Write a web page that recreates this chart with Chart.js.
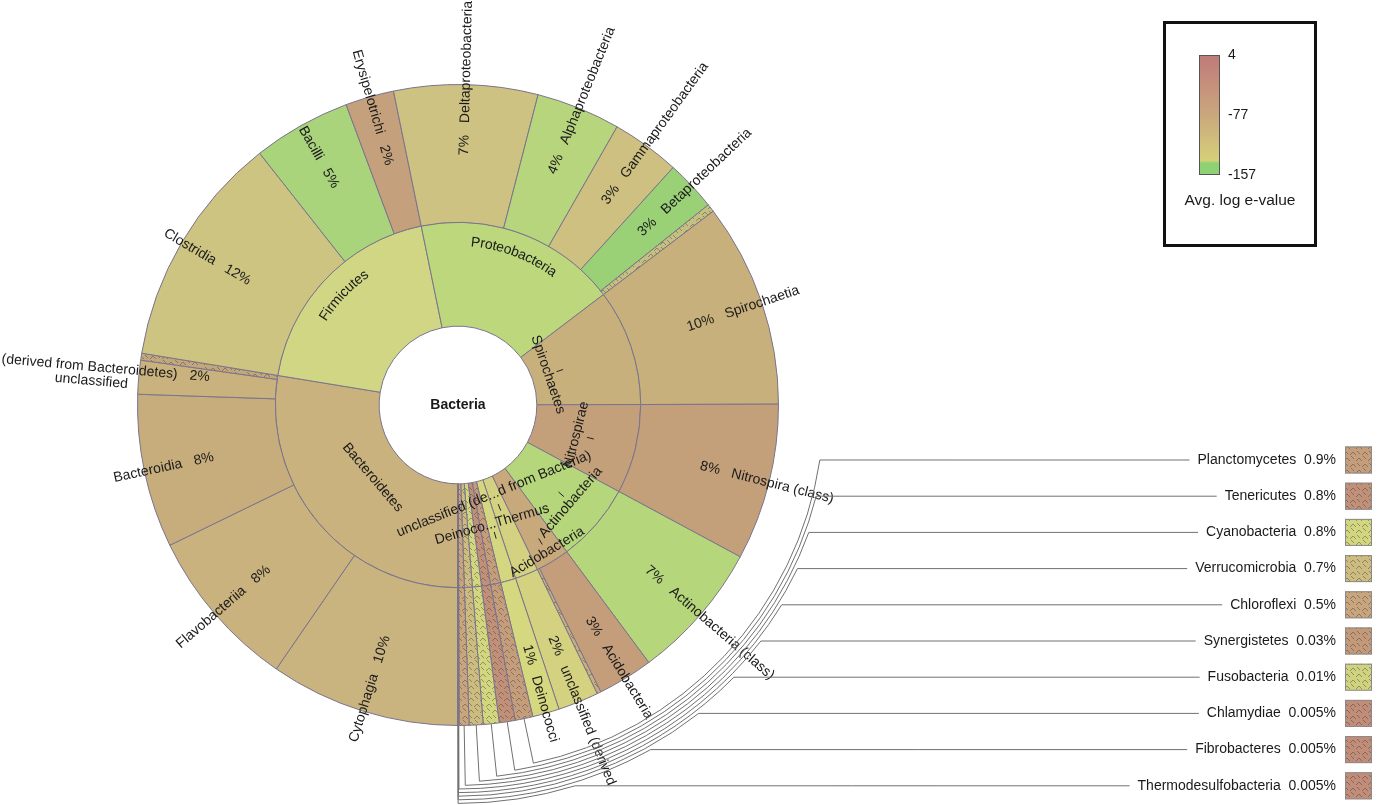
<!DOCTYPE html>
<html><head><meta charset="utf-8">
<script src="https://cdn.jsdelivr.net/npm/chart.js@4"></script>
<style>html,body{margin:0;padding:0;background:#fff;overflow:hidden;}</style>
</head><body>
<canvas id="c" width="1378" height="805"></canvas>
<script>
// ---- DATA (percent of reads) ----
const phyla = ['Bacteroidetes','Firmicutes','Proteobacteria','Spirochaetes','Nitrospirae','Actinobacteria','Acidobacteria','unclassified (derived from Bacteria)','Deinococcus-Thermus','Planctomycetes','Tenericutes','Cyanobacteria','Verrucomicrobia','Chloroflexi','Synergistetes','Fusobacteria','Chlamydiae','Fibrobacteres','Thermodesulfobacteria'];
const phylumPct = [27.6,19.2,17.9,10.3,7.9,7.0,3.0,2.05,1.35,0.9,0.8,0.8,0.7,0.5,0.03,0.01,0.005,0.005,0.005];
const phylumInnerLabel = ['Bacteroidetes','Firmicutes','Proteobacteria','Spirochaetes','Nitrospirae','Actinobacteria','Acidobacteria','unclassified (de...d from Bacteria)','Deinoco...Thermus','','','','','','','','','',''];

const classes = ['Cytophagia','Flavobacteriia','Bacteroidia','unclassified (derived from Bacteroidetes)','other Bacteroidetes',
  'Clostridia','Bacilli','Erysipelotrichi',
  'Deltaproteobacteria','Alphaproteobacteria','Gammaproteobacteria','Betaproteobacteria','other Proteobacteria',
  'Spirochaetia','Nitrospira (class)','Actinobacteria (class)','Acidobacteria','other Acidobacteria',
  'unclassified (derived from Bacteria)','Deinococci',
  'Planctomycetes','Tenericutes','Cyanobacteria','Verrucomicrobia','Chloroflexi','Synergistetes','Fusobacteria','Chlamydiae','Fibrobacteres','Thermodesulfobacteria'];
const classPct = [9.6,8.2,7.75,1.7,0.35, 11.8,4.95,2.45, 7.25,4.25,3.45,2.55,0.4, 10.3,7.9,7.0,2.8,0.2, 2.05,1.35,
  0.9,0.8,0.8,0.7,0.5,0.03,0.01,0.005,0.005,0.005];
// outer-ring label text ('' = no label); second line for wrapped labels
const classLabelText = ['Cytophagia','Flavobacteriia','Bacteroidia','(derived from Bacteroidetes)','',
  'Clostridia','Bacilli','Erysipelotrichi',
  'Deltaproteobacteria','Alphaproteobacteria','Gammaproteobacteria','Betaproteobacteria','',
  'Spirochaetia','Nitrospira (class)','Actinobacteria (class)','Acidobacteria','',
  'unclassified (derived','Deinococci','','','','','','','','','',''];
const classLabelLine2 = {3:'unclassified'};

// small phyla listed at right
const smallPhyla = phyla.slice(9);
const smallPct = phylumPct.slice(9);

// colour legend
const legendTicks = [4,-77,-157];
const legendTitle = 'Avg. log e-value';

// ---- STYLE ----
const FONT = '"Liberation Sans", Arial, sans-serif';
const TAU = Math.PI*2;
const phylumColors = ['#c9b27e','#d0d683','#bdd77d','#c8b07c','#c3a07a','#b6d67b','#c8a97b','#d4d180','#d5d680',
  '#c49d7b','#c09178','#d2d67f','#ccbc80','#c8a57c','#c39a79','#cfd27f','#c08d78','#c08d78','#c08d78'];
const classColors = ['#c9b37e','#c9b27d','#c7ad7b','#c9b27e','#c2a67c',
  '#cdc481','#a9d47b','#c4a07c',
  '#cdc281','#b7d57c','#cdc080','#9ad076','#c5c07f',
  '#c8b07c','#c3a07a','#b6d67b','#c49e7a','#c8b07c',
  '#d4d180','#d6d880',
  '#c49d7b','#c09178','#d2d67f','#ccbc80','#c8a57c','#c39a79','#cfd27f','#c08d78','#c08d78','#c08d78'];
const hatchedClass = new Set([4,12,17,20,21,22,23,24,25,26,27,28,29]);
const hatchedPhylum = new Set([9,10,11,12,13,14,15,16,17,18]);
// inner label radius, curved flag and leader-tick offset (radial)
const innerR = {0:112,1:160,2:163,3:95,4:122,5:149,6:172,7:96,8:124};
const innerCurved = new Set([1,2]);
const innerTick = {3:12,4:14,5:-12,6:-12,7:14,8:11};

const cv = document.getElementById('c');
const ctx0 = cv.getContext('2d');
function hatch(color){
  const c = document.createElement('canvas'); c.width = 12; c.height = 12;
  const g = c.getContext('2d');
  g.fillStyle = color; g.fillRect(0,0,12,12);
  g.strokeStyle = 'rgba(70,55,60,0.55)'; g.lineWidth = 0.8;
  g.beginPath();
  g.moveTo(0,5); g.lineTo(3,2); g.lineTo(6,5);
  g.moveTo(6,11); g.lineTo(9,8); g.lineTo(12,11);
  g.moveTo(7,0); g.lineTo(10,3);
  g.moveTo(1,7); g.lineTo(4,10);
  g.stroke();
  return ctx0.createPattern(c,'repeat');
}
const classBg = classColors.map((c,i)=> hatchedClass.has(i) ? hatch(c) : c);
const phylumBg = phylumColors.map((c,i)=> hatchedPhylum.has(i) ? hatch(c) : c);
const BORDER = 'rgb(122,116,140)';

function norm(a){ a = a % TAU; return a < 0 ? a + TAU : a; }
function tangentText(ctx, text, cx, cy, r, mid){
  let rot = mid + Math.PI/2;
  if (Math.cos(rot) < -1e-6) rot += Math.PI;
  ctx.save();
  ctx.translate(cx + r*Math.cos(mid), cy + r*Math.sin(mid));
  ctx.rotate(rot);
  ctx.textAlign = 'center'; ctx.textBaseline = 'middle';
  ctx.fillText(text, 0, 0);
  ctx.restore();
}
function curvedText(ctx, text, cx, cy, r, mid){
  ctx.save();
  ctx.textAlign = 'center'; ctx.textBaseline = 'middle';
  const total = ctx.measureText(text).width;
  let a = mid - total/(2*r);
  for (const ch of text){
    const w = ctx.measureText(ch).width;
    const ang = a + w/(2*r);
    ctx.save();
    ctx.translate(cx + r*Math.cos(ang), cy + r*Math.sin(ang));
    ctx.rotate(ang + Math.PI/2);
    ctx.fillText(ch, 0, 0);
    ctx.restore();
    a += w/r;
  }
  ctx.restore();
}

const labelPlugin = {
  id: 'kronaLabels',
  afterDraw(chart){
    const ctx = chart.ctx;
    const outer = chart.getDatasetMeta(0).data;
    const inner = chart.getDatasetMeta(1).data;
    const cx = outer[0].x, cy = outer[0].y;
    ctx.save();
    ctx.fillStyle = '#1a1a1a';
    // centre
    ctx.font = 'bold 14px ' + FONT;
    ctx.textAlign = 'center'; ctx.textBaseline = 'middle';
    ctx.fillText('Bacteria', cx, cy);

    // inner ring labels
    ctx.font = '14px ' + FONT;
    ctx.strokeStyle = '#222'; ctx.lineWidth = 1;
    inner.forEach((el,i)=>{
      const t = phylumInnerLabel[i]; if (!t) return;
      const mid = norm((el.startAngle + el.endAngle)/2);
      if (innerCurved.has(i)) curvedText(ctx, t, cx, cy, innerR[i], mid);
      else tangentText(ctx, t, cx, cy, innerR[i], mid);
      if (innerTick[i] !== undefined){
        const r0 = innerR[i] + innerTick[i];
        const s = Math.sign(innerTick[i]);
        ctx.beginPath();
        ctx.moveTo(cx + (r0 - 3*s)*Math.cos(mid), cy + (r0 - 3*s)*Math.sin(mid));
        ctx.lineTo(cx + (r0 + 4*s)*Math.cos(mid), cy + (r0 + 4*s)*Math.sin(mid));
        ctx.stroke();
      }
    });

    // outer ring radial labels
    const Rg = 276, gap = 6;
    outer.forEach((el,i)=>{
      const t = classLabelText[i]; if (!t) return;
      const pct = Math.round(classPct[i]) + '%';
      const mid = norm((el.startAngle + el.endAngle)/2);
      const right = Math.cos(mid) >= 0;
      ctx.save();
      ctx.translate(cx, cy);
      ctx.rotate(right ? mid : mid + Math.PI);
      ctx.textBaseline = 'middle';
      const l2 = classLabelLine2[i];
      const dy = l2 ? -6 : 0;
      if (right){
        ctx.textAlign = 'right'; ctx.fillText(pct, Rg - gap, dy);
        ctx.textAlign = 'left'; ctx.fillText(t, Rg + gap, dy);
      } else {
        ctx.textAlign = 'left'; ctx.fillText(pct, -(Rg - gap), dy);
        ctx.textAlign = 'right'; ctx.fillText(t, -(Rg + gap), dy);
        if (l2){
          const w = ctx.measureText(t).width;
          ctx.textAlign = 'center';
          ctx.fillText(l2, -(Rg + gap) - w/2 + 3, dy + 14);
        }
      }
      ctx.restore();
    });

    // leader lines for small phyla
    ctx.font = '14px ' + FONT;
    ctx.lineWidth = 1;
    const rowY0 = 460, rowStep = 36.2, textRight = 1336;
    smallPhyla.forEach((name,k)=>{
      const el = outer[20 + k];
      const mid = norm((el.startAngle + el.endAngle)/2);
      const r = 366 + k*3.6;
      const y = rowY0 + k*rowStep;
      const phiEnd = Math.asin((y - cy)/r);
      const label = name + '  ' + smallPct[k] + '%';
      const tw = ctx.measureText(label).width;
      ctx.strokeStyle = '#707070';
      ctx.beginPath();
      ctx.moveTo(cx + el.outerRadius*Math.cos(mid), cy + el.outerRadius*Math.sin(mid));
      ctx.lineTo(cx + r*Math.cos(mid), cy + r*Math.sin(mid));
      ctx.arc(cx, cy, r, mid, phiEnd, true);
      ctx.lineTo(textRight - tw - 8, y);
      ctx.stroke();
      ctx.fillStyle = '#1a1a1a';
      ctx.textAlign = 'right'; ctx.textBaseline = 'middle';
      ctx.fillText(label, textRight, y);
      // swatch
      ctx.fillStyle = hatch(classColors[20+k]);
      ctx.fillRect(1345, y - 13.5, 27, 27);
      ctx.strokeStyle = '#8a8a8a';
      ctx.strokeRect(1345.5, y - 13, 26, 26);
    });

    // colour legend box
    ctx.lineWidth = 3; ctx.strokeStyle = '#111';
    ctx.strokeRect(1164.5, 22.5, 151, 223);
    const bx = 1199, by = 55, bw = 21, bh = 120;
    const grad = ctx.createLinearGradient(0, by, 0, by + bh);
    grad.addColorStop(0, '#c07a7a');
    grad.addColorStop(0.5, '#caa77d');
    grad.addColorStop(0.88, '#d6d07a');
    grad.addColorStop(0.9, '#8fd273');
    grad.addColorStop(1, '#8fd273');
    ctx.fillStyle = grad; ctx.fillRect(bx, by, bw, bh);
    ctx.lineWidth = 1; ctx.strokeStyle = '#555';
    ctx.strokeRect(bx + 0.5, by + 0.5, bw - 1, bh - 1);
    ctx.fillStyle = '#1a1a1a';
    ctx.font = '14px ' + FONT;
    ctx.textAlign = 'left'; ctx.textBaseline = 'middle';
    const tMax = legendTicks[0], tMin = legendTicks[legendTicks.length-1];
    legendTicks.forEach(v=>{
      const yy = by + (tMax - v)/(tMax - tMin)*bh;
      ctx.fillText(String(v), 1228, yy);
    });
    ctx.font = '15.5px ' + FONT;
    ctx.textAlign = 'center';
    ctx.fillText(legendTitle, 1240, 201);
    ctx.restore();
  }
};

new Chart(cv, {
  type: 'doughnut',
  data: {
    labels: classes,
    datasets: [
      {label:'Class', data: classPct, backgroundColor: classBg, borderColor: BORDER, borderWidth: 1, weight: 138},
      {label:'Phylum', data: phylumPct, backgroundColor: phylumBg, borderColor: BORDER, borderWidth: 1, weight: 104}
    ]
  },
  options: {
    responsive: false,
    devicePixelRatio: 1,
    animation: false,
    events: [],
    rotation: 180,
    cutout: '24.6%',
    layout: {padding: {left: 137, right: 599, top: 84, bottom: 79}},
    plugins: {legend: {display: false}, tooltip: {enabled: false}}
  },
  plugins: [labelPlugin]
});
</script>
</body></html>
